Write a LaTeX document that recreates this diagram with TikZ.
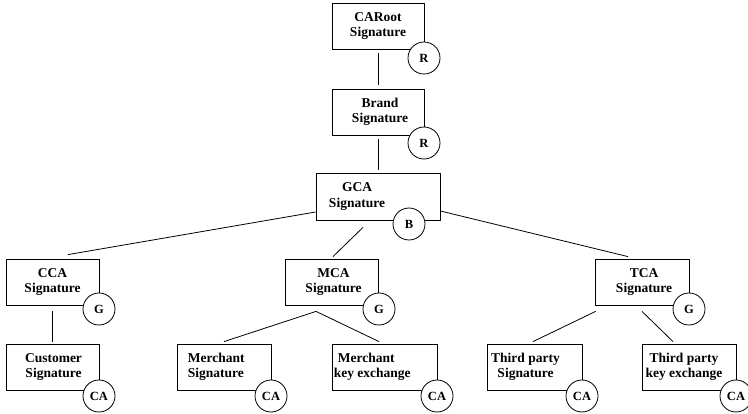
\documentclass[tikz,border=0pt]{standalone}
\usepackage{fontspec}
\setmainfont{Liberation Serif}
\begin{document}
\begin{tikzpicture}[x=1pt,y=-1pt,
  box/.style={draw, line width=0.8pt, rectangle, inner sep=0pt, minimum height=46pt},
  boxtxt/.style={inner sep=0pt, align=center, font=\bfseries\fontsize{13.5}{15.5}\selectfont},
  boxtxtl/.style={boxtxt, align=left},
  sig/.style={circle, draw, line width=0.8pt, fill=white, minimum size=32pt, inner sep=0pt, font=\bfseries\fontsize{12.5}{13}\selectfont},
  link/.style={line width=0.8pt}]
\useasboundingbox (0,0) rectangle (748,414);
% boxes
\node[box, minimum width=92pt] (caroot) at (378,26) {};
\node[box, minimum width=92pt] (brand) at (378,112) {};
\node[box, minimum width=124pt, minimum height=47pt] (gca) at (378,196.5) {};
\node[box, minimum width=93pt] (cca) at (52.5,282) {};
\node[box, minimum width=93pt] (mca) at (331.5,282) {};
\node[box, minimum width=94pt] (tca) at (642,282) {};
\node[box, minimum width=93pt] (customer) at (52.5,367) {};
\node[box, minimum width=94pt] (merchant) at (224,367) {};
\node[box, minimum width=105pt] (merchkey) at (384.5,367) {};
\node[box, minimum width=95pt] (thirdsig) at (534.5,367) {};
\node[box, minimum width=94pt] (thirdkey) at (689,367) {};
% texts
\node[boxtxt] (caroot-t) at (caroot.center) {CARoot\\Signature};
\node[boxtxt] (brand-t) at ([xshift=2pt]brand.center) {Brand\\Signature};
\node[boxtxt] (gca-t) at ([xshift=-21pt]gca.center) {GCA\\Signature};
\node[boxtxt] (cca-t) at (cca.center) {CCA\\Signature};
\node[boxtxt] (mca-t) at ([xshift=2pt]mca.center) {MCA\\Signature};
\node[boxtxt] (tca-t) at ([xshift=2pt]tca.center) {TCA\\Signature};
\node[boxtxt] (customer-t) at ([xshift=1pt]customer.center) {Customer\\Signature};
\node[boxtxtl, anchor=west] (merchant-t) at ([xshift=11pt]merchant.west) {Merchant\\Signature};
\node[boxtxtl, anchor=west] (merchkey-t) at ([xshift=2pt]merchkey.west) {\hspace*{4pt}Merchant\\key exchange};
\node[boxtxt] (thirdsig-t) at ([xshift=-9pt]thirdsig.center) {Third party\\Signature};
\node[boxtxt] (thirdkey-t) at ([xshift=-5pt]thirdkey.center) {Third party\\key exchange};
% connectors
\draw[link] ([yshift=-4pt]caroot.south) -- ([yshift=4pt]brand.north);
\draw[link] ([yshift=-4pt]brand.south) -- ([yshift=3pt]gca.north);
\draw[link] ([yshift=-15.5pt]gca.west) -- ([xshift=15.5pt,yshift=4pt]cca.north);
\draw[link] ([xshift=-15pt,yshift=-7pt]gca.south) -- ([xshift=1.5pt,yshift=2pt]mca.north);
\draw[link] ([yshift=-14.5pt]gca.east) -- ([xshift=-14pt,yshift=2pt]tca.north);
\draw[link] ([yshift=-6pt]cca.south) -- ([yshift=2pt]customer.north);
\coordinate (mfork) at ([xshift=-15.5pt,yshift=-6pt]mca.south);
\draw[link] (mfork) -- ([yshift=2pt]merchant.north);
\draw[link] (mfork) -- ([xshift=-5.5pt,yshift=2pt]merchkey.north);
\draw[link] ([xshift=1pt,yshift=-6pt]tca.south west) -- ([xshift=-1.5pt,yshift=2pt]thirdsig.north);
\draw[link] ([yshift=-6pt]tca.south) -- ([xshift=-16pt,yshift=2pt]thirdkey.north);
% signature circles
\node[sig] (caroot-s) at (424,58) {R};
\node[sig] (brand-s) at (424,143) {R};
\node[sig] (gca-s) at (409,224) {B};
\node[sig] (cca-s) at (99,309) {G};
\node[sig] (mca-s) at (379,309) {G};
\node[sig] (tca-s) at (689,309) {G};
\node[sig] (customer-s) at (99,396) {CA};
\node[sig] (merchant-s) at (271,396) {CA};
\node[sig] (merchkey-s) at (437,396) {CA};
\node[sig] (thirdsig-s) at (582,396) {CA};
\node[sig] (thirdkey-s) at (736,396) {CA};
\end{tikzpicture}
\end{document}
